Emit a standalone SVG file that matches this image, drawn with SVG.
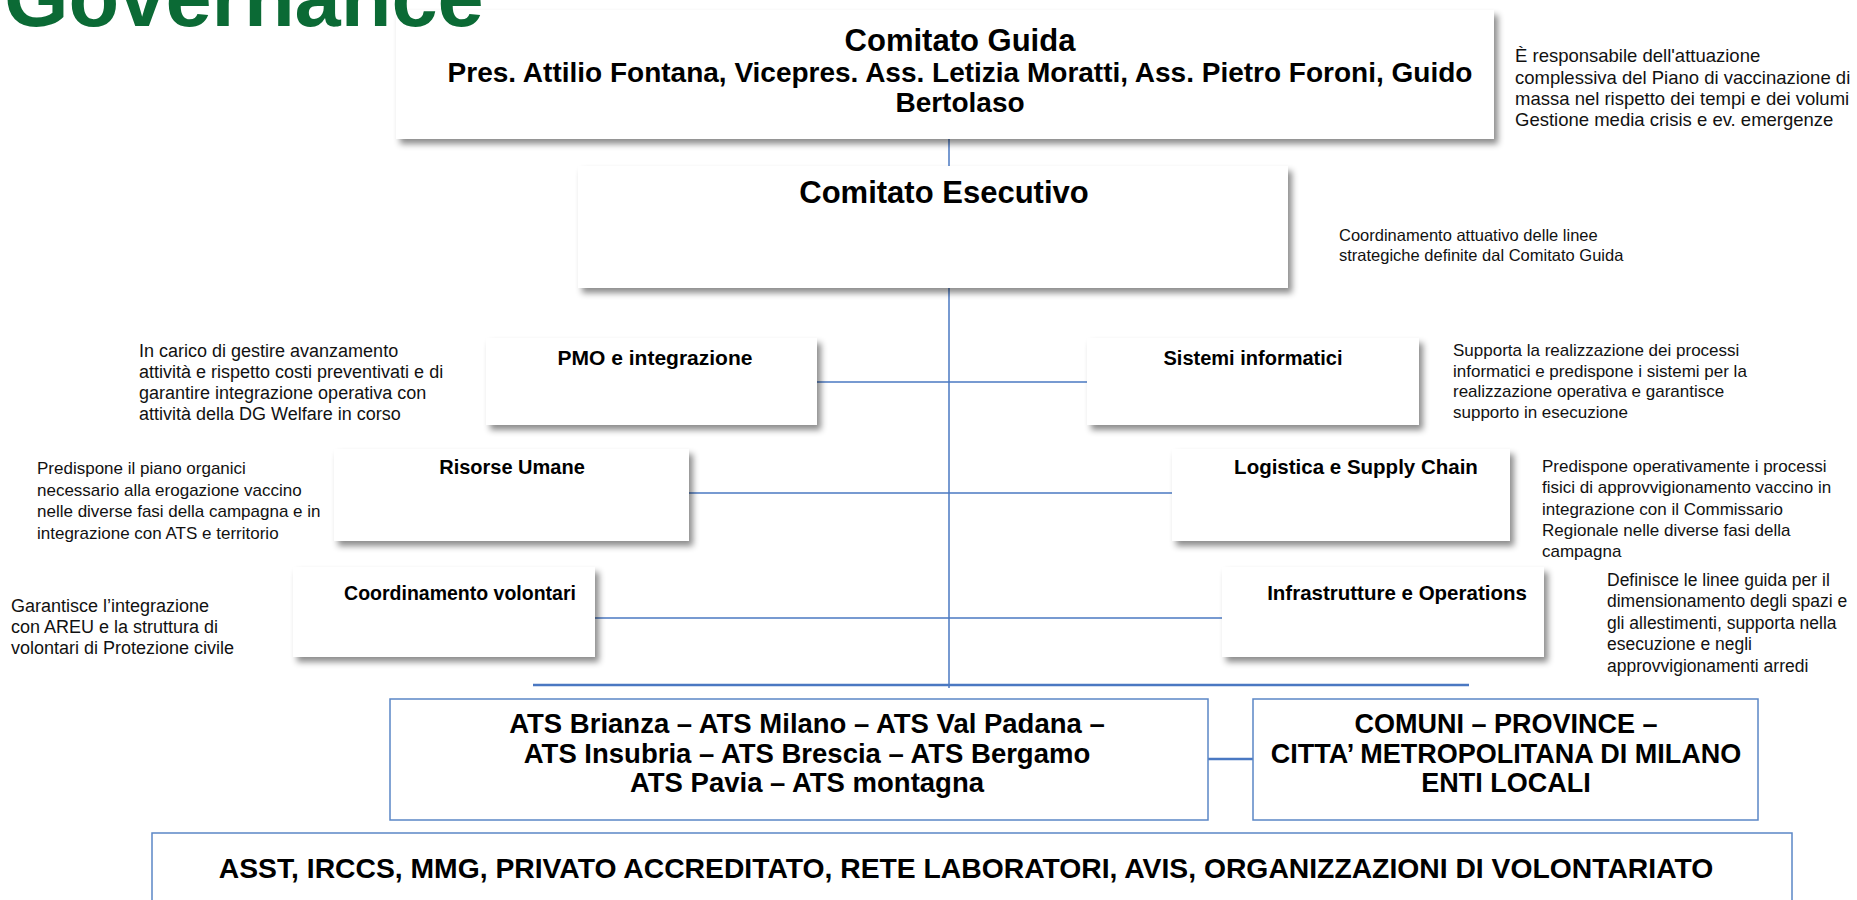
<svg xmlns="http://www.w3.org/2000/svg" width="1857" height="900" viewBox="0 0 1857 900">
<defs>
<filter id="sh" x="-5%" y="-10%" width="115%" height="130%">
<feDropShadow dx="4" dy="5" stdDeviation="3" flood-color="#000" flood-opacity="0.45"/>
</filter>
</defs>
<style>
.box{fill:#fff;filter:url(#sh)}
.obox{fill:#fff;stroke:#5b87c6;stroke-width:1.5}
.lbl{font-family:"Liberation Sans",Arial,sans-serif;font-weight:bold;fill:#000;text-anchor:middle}
.desc{font-family:"Liberation Sans",Arial,sans-serif;fill:#111}
.con{stroke:#4a78c2;stroke-width:1.5;fill:none}
.con2{stroke:#4a78c2;stroke-width:2.5;fill:none}
</style>
<rect width="1857" height="900" fill="#fff"/>

<g id="connectors">
<line class="con" x1="949" y1="139" x2="949" y2="166"/>
<line class="con" x1="949" y1="288" x2="949" y2="688"/>
<line class="con" x1="817" y1="382" x2="1087" y2="382"/>
<line class="con" x1="689" y1="493" x2="1172" y2="493"/>
<line class="con" x1="595" y1="618" x2="1222" y2="618"/>
<line class="con2" x1="533" y1="685" x2="1469" y2="685"/>
<line class="con2" x1="1208" y1="759" x2="1253" y2="759"/>
</g>

<g id="comitato-guida">
<rect class="box" x="396" y="10" width="1098" height="129"/>
<text class="lbl" x="960" y="51" font-size="31">Comitato Guida</text>
<text class="lbl" x="960" y="82" font-size="28">Pres. Attilio Fontana, Vicepres. Ass. Letizia Moratti, Ass. Pietro Foroni, Guido</text>
<text class="lbl" x="960" y="112" font-size="28">Bertolaso</text>
</g>
<g id="desc-guida" class="desc" font-size="18.5">
<text x="1515" y="62">È responsabile dell'attuazione</text>
<text x="1515" y="84">complessiva del Piano di vaccinazione di</text>
<text x="1515" y="105">massa nel rispetto dei tempi e dei volumi</text>
<text x="1515" y="126">Gestione media crisis e ev. emergenze</text>
</g>

<g id="comitato-esecutivo">
<rect class="box" x="578" y="166" width="710" height="122"/>
<text class="lbl" x="944" y="203" font-size="31">Comitato Esecutivo</text>
</g>
<g id="desc-esecutivo" class="desc" font-size="16.5">
<text x="1339" y="241">Coordinamento attuativo delle linee</text>
<text x="1339" y="261">strategiche definite dal Comitato Guida</text>
</g>

<g id="pmo">
<rect class="box" x="486" y="338" width="331" height="87"/>
<text class="lbl" x="655" y="365" font-size="21">PMO e integrazione</text>
</g>
<g id="desc-pmo" class="desc" font-size="18">
<text x="139" y="357">In carico di gestire avanzamento</text>
<text x="139" y="378">attività e rispetto costi preventivati e di</text>
<text x="139" y="399">garantire integrazione operativa con</text>
<text x="139" y="420">attività della DG Welfare in corso</text>
</g>

<g id="sistemi">
<rect class="box" x="1087" y="338" width="332" height="87"/>
<text class="lbl" x="1253" y="365" font-size="20">Sistemi informatici</text>
</g>
<g id="desc-sistemi" class="desc" font-size="17">
<text x="1453" y="356">Supporta la realizzazione dei processi</text>
<text x="1453" y="377">informatici e predispone i sistemi per la</text>
<text x="1453" y="397">realizzazione operativa e garantisce</text>
<text x="1453" y="418">supporto in esecuzione</text>
</g>

<g id="risorse">
<rect class="box" x="334" y="449" width="355" height="92"/>
<text class="lbl" x="512" y="474" font-size="20">Risorse Umane</text>
</g>
<g id="desc-risorse" class="desc" font-size="17">
<text x="37" y="474">Predispone il piano organici</text>
<text x="37" y="495.5">necessario alla erogazione vaccino</text>
<text x="37" y="517">nelle diverse fasi della campagna e in</text>
<text x="37" y="538.5">integrazione con ATS e territorio</text>
</g>

<g id="logistica">
<rect class="box" x="1172" y="449" width="338" height="92"/>
<text class="lbl" x="1356" y="474" font-size="20.5">Logistica e Supply Chain</text>
</g>
<g id="desc-logistica" class="desc" font-size="17">
<text x="1542" y="472">Predispone operativamente i processi</text>
<text x="1542" y="493">fisici di approvvigionamento vaccino in</text>
<text x="1542" y="515">integrazione con il Commissario</text>
<text x="1542" y="536">Regionale nelle diverse fasi della</text>
<text x="1542" y="557">campagna</text>
</g>

<g id="volontari">
<rect class="box" x="293" y="567" width="302" height="90"/>
<text class="lbl" x="460" y="600" font-size="19.5">Coordinamento volontari</text>
</g>
<g id="desc-volontari" class="desc" font-size="18">
<text x="11" y="612">Garantisce l’integrazione</text>
<text x="11" y="633">con AREU e la struttura di</text>
<text x="11" y="654">volontari di Protezione civile</text>
</g>

<g id="infrastrutture">
<rect class="box" x="1222" y="567" width="322" height="90"/>
<text class="lbl" x="1397" y="600" font-size="20.5">Infrastrutture e Operations</text>
</g>
<g id="desc-infrastrutture" class="desc" font-size="17.5">
<text x="1607" y="586">Definisce le linee guida per il</text>
<text x="1607" y="607">dimensionamento degli spazi e</text>
<text x="1607" y="629">gli allestimenti, supporta nella</text>
<text x="1607" y="650">esecuzione e negli</text>
<text x="1607" y="672">approvvigionamenti arredi</text>
</g>

<g id="ats">
<rect class="obox" x="390" y="699" width="818" height="121"/>
<text class="lbl" x="807" y="733" font-size="27.5">ATS Brianza – ATS Milano – ATS Val Padana –</text>
<text class="lbl" x="807" y="763" font-size="27.5">ATS Insubria – ATS Brescia – ATS Bergamo</text>
<text class="lbl" x="807" y="792" font-size="27.5">ATS Pavia – ATS montagna</text>
</g>

<g id="comuni">
<rect class="obox" x="1253" y="699" width="505" height="121"/>
<text class="lbl" x="1506" y="733" font-size="27">COMUNI – PROVINCE –</text>
<text class="lbl" x="1506" y="763" font-size="27">CITTA’ METROPOLITANA DI MILANO</text>
<text class="lbl" x="1506" y="792" font-size="27">ENTI LOCALI</text>
</g>

<g id="asst">
<rect class="obox" x="152" y="833" width="1640" height="90"/>
<text class="lbl" x="966" y="878" font-size="28.3">ASST, IRCCS, MMG, PRIVATO ACCREDITATO, RETE LABORATORI, AVIS, ORGANIZZAZIONI DI VOLONTARIATO</text>
</g>

<text x="4" y="26" font-family="Liberation Sans,Arial,sans-serif" font-weight="bold" font-size="83" fill="#0b6a35">Governance</text>
</svg>
